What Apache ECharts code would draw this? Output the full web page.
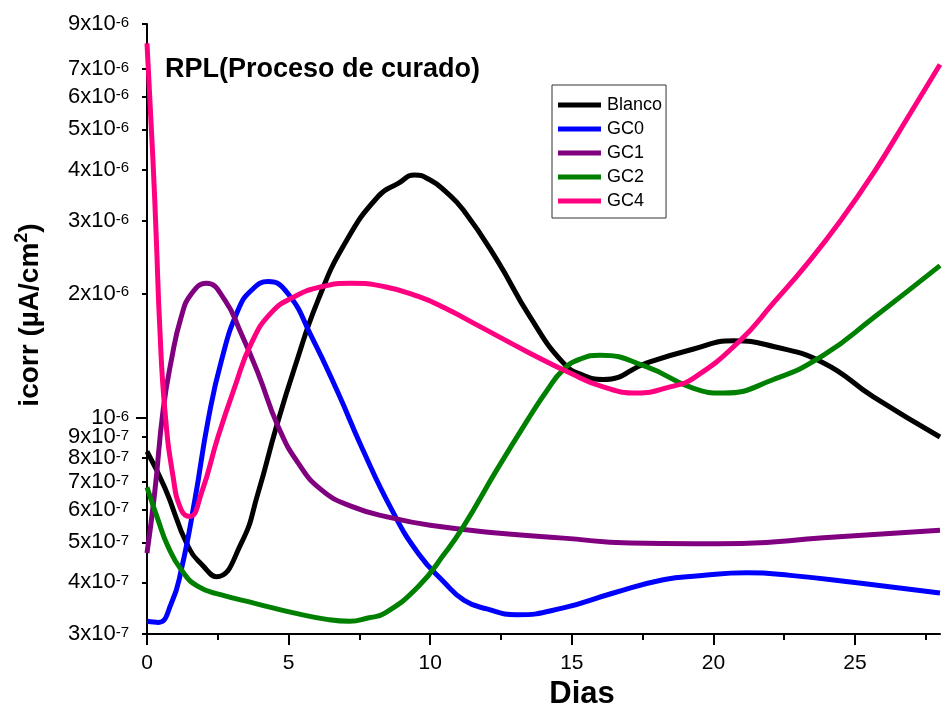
<!DOCTYPE html>
<html>
<head>
<meta charset="utf-8">
<script src="https://cdn.jsdelivr.net/npm/echarts@6/dist/echarts.min.js"></script>
<style>
html,body{margin:0;padding:0;background:#fff;}
#c{width:952px;height:708px;}
</style>
</head>
<body>
<div id="c"></div>
<script>
// ---- data ----
const seriesNames = ['Blanco', 'GC0', 'GC1', 'GC2', 'GC4'];

const blancoDays = [0, 0.63, 1.45, 2.0, 2.45, 3.33, 3.92, 4.57, 5.22, 6.04, 6.99, 8.16, 8.87, 9.46, 10.0, 10.52, 11.17, 12.35, 13.52, 14.7, 15.4, 16.11, 17.65, 19.3, 20.71, 22.12, 23.89, 25.65, 28];
const blancoVals = [8.3e-7, 6.78e-7, 4.89e-7, 4.37e-7, 4.13e-7, 4.98e-7, 6.58e-7, 9.54e-7, 1.33e-6, 1.93e-6, 2.65e-6, 3.44e-6, 3.70e-6, 3.88e-6, 3.77e-6, 3.55e-6, 3.19e-6, 2.42e-6, 1.76e-6, 1.36e-6, 1.27e-6, 1.24e-6, 1.36e-6, 1.47e-6, 1.54e-6, 1.49e-6, 1.36e-6, 1.125e-6, 9.0e-7];

const gc0Days = [0, 0.4, 0.86, 1.21, 1.69, 2.16, 2.63, 3.22, 3.69, 4.28, 4.98, 5.81, 6.75, 7.58, 8.64, 9.58, 10.5, 11.2, 12.0, 13.05, 14.7, 16.47, 18.23, 19.5, 21.18, 22.71, 25.07, 28];
const gc0Vals = [3.22e-7, 3.2e-7, 3.56e-7, 4.29e-7, 6.34e-7, 9.9e-7, 1.38e-6, 1.83e-6, 2.04e-6, 2.14e-6, 2.0e-6, 1.575e-6, 1.15e-6, 8.5e-7, 6.0e-7, 4.7e-7, 4.0e-7, 3.62e-7, 3.45e-7, 3.34e-7, 3.47e-7, 3.77e-7, 4.06e-7, 4.15e-7, 4.22e-7, 4.16e-7, 3.99e-7, 3.77e-7];

const gc1Days = [0, 0.27, 0.57, 0.86, 1.21, 1.57, 2.1, 2.75, 3.33, 3.92, 4.63, 5.34, 6.16, 7.22, 8.64, 10, 12.35, 14.7, 17.06, 19.3, 21, 23.89, 28];
const gc1Vals = [4.71e-7, 6.58e-7, 1.047e-6, 1.38e-6, 1.76e-6, 2.0e-6, 2.12e-6, 1.93e-6, 1.6e-6, 1.285e-6, 9.54e-7, 7.78e-7, 6.7e-7, 6.11e-7, 5.73e-7, 5.5e-7, 5.27e-7, 5.12e-7, 4.98e-7, 4.96e-7, 4.97e-7, 5.13e-7, 5.35e-7];

const gc2Days = [0, 0.39, 0.74, 1.21, 1.8, 2.63, 3.81, 5.22, 6.4, 7.16, 7.8, 8.4, 9.58, 10.52, 11.17, 12.35, 13.52, 14.1, 14.7, 15.3, 16.0, 17.65, 19.3, 20.35, 22.12, 23.89, 25.65, 28];
const gc2Vals = [6.8e-7, 5.67e-7, 4.89e-7, 4.29e-7, 3.91e-7, 3.73e-7, 3.56e-7, 3.37e-7, 3.25e-7, 3.22e-7, 3.28e-7, 3.37e-7, 3.91e-7, 4.71e-7, 5.46e-7, 7.49e-7, 1.01e-6, 1.16e-6, 1.31e-6, 1.39e-6, 1.42e-6, 1.33e-6, 1.18e-6, 1.15e-6, 1.24e-6, 1.42e-6, 1.75e-6, 2.34e-6];

const gc4Days = [0, 0.21, 0.33, 0.45, 0.63, 0.92, 1.21, 1.51, 1.92, 2.51, 3.1, 3.69, 4.39, 5.22, 6.16, 7.22, 8.4, 9.58, 10.5, 11.76, 13.52, 14.94, 16.11, 17.29, 18.47, 19.3, 20.94, 22.12, 23.3, 24.48, 25.65, 26.83, 28];
const gc4Vals = [8.08e-6, 4.22e-6, 2.7e-6, 1.665e-6, 1.047e-6, 7.22e-7, 5.99e-7, 5.78e-7, 6.58e-7, 9.02e-7, 1.19e-6, 1.52e-6, 1.8e-6, 1.97e-6, 2.08e-6, 2.12e-6, 2.08e-6, 1.97e-6, 1.85e-6, 1.665e-6, 1.436e-6, 1.285e-6, 1.19e-6, 1.15e-6, 1.19e-6, 1.25e-6, 1.54e-6, 1.9e-6, 2.36e-6, 3.0e-6, 3.92e-6, 5.3e-6, 7.18e-6];

const xMajorTicks = [0, 5, 10, 15, 20, 25];
const xMinorTicks = [2.5, 7.5, 12.5, 17.5, 22.5, 27.5];

const yTickVals = [3e-7, 4e-7, 5e-7, 6e-7, 7e-7, 8e-7, 9e-7, 1e-6, 2e-6, 3e-6, 4e-6, 5e-6, 6e-6, 7e-6, 8e-6, 9e-6];
const yTickMant = ['3x10', '4x10', '5x10', '6x10', '7x10', '8x10', '9x10', '10', '2x10', '3x10', '4x10', '5x10', '6x10', '7x10', '8x10', '9x10'];
const yTickExp  = ['-7', '-7', '-7', '-7', '-7', '-7', '-7', '-6', '-6', '-6', '-6', '-6', '-6', '-6', '-6', '-6'];
const yMajorTicks = [1e-6];
const yMin = 3e-7, yMax = 9e-6;

const colors = ['#000000', '#0000ff', '#800080', '#008000', '#ff0080'];

// ---- chart ----
const FONT = '"Liberation Sans", Arial, Helvetica, sans-serif';
const pairs = (xs, ys) => xs.map((x, i) => [x, ys[i]]);
const allDays = [blancoDays, gc0Days, gc1Days, gc2Days, gc4Days];
const allVals = [blancoVals, gc0Vals, gc1Vals, gc2Vals, gc4Vals];

// nudge the end ticks a hair inside the extent so floating-point log rounding keeps them
const yTickPos = yTickVals.map(v => Math.min(Math.max(v, yMin * 1.000001), yMax * 0.999999));

function yLabel(v) {
  let best = 0, bd = Infinity;
  for (let i = 0; i < yTickVals.length; i++) {
    const d = Math.abs(Math.log10(v) - Math.log10(yTickVals[i]));
    if (d < bd) { bd = d; best = i; }
  }
  return '{m|' + yTickMant[best] + '}{s|' + yTickExp[best] + '}';
}

const chart = echarts.init(document.getElementById('c'), null, {renderer: 'canvas'});
const axisCommon = {
  splitLine: {show: false}
};
chart.setOption({
  backgroundColor: '#ffffff',
  animation: false,
  color: colors,
  textStyle: {fontFamily: FONT, color: '#000'},
  title: {
    text: 'RPL(Proceso de curado)',
    left: 165, top: 56, padding: 0,
    textStyle: {fontFamily: FONT, fontSize: 27, fontWeight: 'bold', color: '#000'}
  },
  legend: {
    orient: 'vertical',
    left: 552, top: 85,
    padding: [11, 4, 8, 6],
    itemGap: 6,
    itemWidth: 43, itemHeight: 5,
    icon: 'rect',
    borderColor: '#333', borderWidth: 1,
    backgroundColor: '#fff',
    data: seriesNames,
    textStyle: {fontFamily: FONT, fontSize: 18, lineHeight: 18, color: '#000', padding: [0, 0, 0, 1]}
  },
  grid: {left: 147, right: 12, top: 24, bottom: 74, containLabel: false, outerBoundsMode: 'none'},
  xAxis: [{
    type: 'value', min: 0, max: 28,
    name: 'Dias', nameLocation: 'middle', nameGap: 44,
    nameTextStyle: {fontFamily: FONT, fontSize: 31, fontWeight: 'bold', color: '#000', padding: [0, 0, 0, 77]},
    axisLine: {show: true, onZero: false, lineStyle: {color: '#000', width: 2}},
    axisTick: {show: true, inside: false, length: 11, customValues: xMajorTicks, lineStyle: {color: '#000', width: 2}},
    axisLabel: {show: true, customValues: xMajorTicks, margin: 19, fontFamily: FONT, fontSize: 21, color: '#000'},
    ...axisCommon
  }, {
    type: 'value', min: 0, max: 28, position: 'bottom',
    axisLine: {show: false},
    axisTick: {show: true, inside: false, length: 6, customValues: xMinorTicks, lineStyle: {color: '#000', width: 2}},
    axisLabel: {show: false},
    ...axisCommon
  }],
  yAxis: [{
    type: 'log', logBase: 10, min: yMin, max: yMax,
    name: '{n|icorr (µA/cm}{s|2}{n|)}', nameLocation: 'middle', nameGap: 100, nameRotate: 90,
    nameTextStyle: {
      padding: [0, 0, 0, 28],
      rich: {
        n: {fontFamily: FONT, fontSize: 28, fontWeight: 'bold', color: '#000', lineHeight: 34},
        s: {fontFamily: FONT, fontSize: 18, fontWeight: 'bold', color: '#000', verticalAlign: 'top', lineHeight: 15}
      }
    },
    axisLine: {show: true, onZero: false, lineStyle: {color: '#000', width: 2}},
    axisTick: {show: true, inside: false, length: 5, customValues: yTickPos, lineStyle: {color: '#000', width: 2}},
    axisLabel: {
      show: true, customValues: yTickPos, margin: 18, hideOverlap: false, showMaxLabel: true, showMinLabel: true,
      formatter: yLabel,
      rich: {
        m: {fontFamily: FONT, fontSize: 22, color: '#000', lineHeight: 18, verticalAlign: 'middle'},
        s: {fontFamily: FONT, fontSize: 15, color: '#000', lineHeight: 2, verticalAlign: 'top'}
      }
    },
    ...axisCommon
  }, {
    type: 'log', logBase: 10, min: yMin, max: yMax, position: 'left',
    axisLine: {show: false},
    axisTick: {show: true, inside: false, length: 11, customValues: yMajorTicks, lineStyle: {color: '#000', width: 2}},
    axisLabel: {show: false},
    ...axisCommon
  }],
  series: seriesNames.map((nm, i) => ({
    name: nm,
    type: 'line',
    xAxisIndex: 0, yAxisIndex: 0,
    data: pairs(allDays[i], allVals[i]),
    smooth: 0.5,
    showSymbol: false,
    symbol: 'none',
    lineStyle: {width: 5, color: colors[i]},
    itemStyle: {color: colors[i]},
    z: 2 + i
  }))
});
</script>
</body>
</html>
